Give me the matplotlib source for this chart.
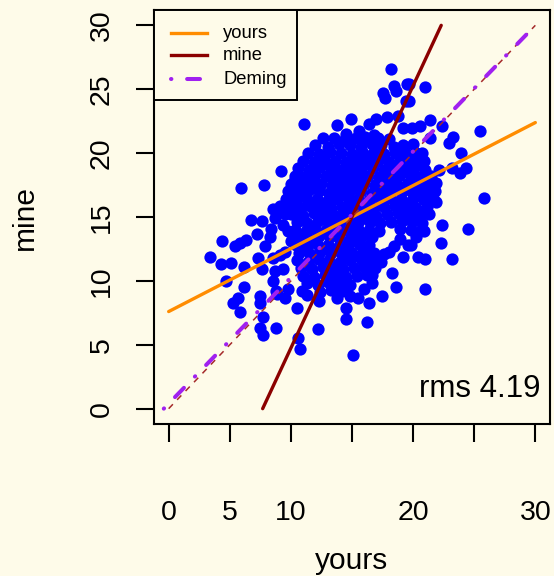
import matplotlib
matplotlib.use("Agg")
import matplotlib.pyplot as plt
from matplotlib.patches import Rectangle
from matplotlib.lines import Line2D

plt.rcParams['font.family'] = ['Liberation Sans', 'DejaVu Sans']

BG = '#FEFBE9'

# (yours, mine) pairs
edge_points = [
    (3.4,11.9),(4.4,13.1),(4.3,11.3),(5.1,11.4),(5.4,12.7),(5.8,13.0),(6.35,13.2),(4.7,10.0),
    (5.25,8.3),(5.7,8.7),(5.8,7.6),(6.15,9.5),(6.2,11.1),(6.76,14.8),(7.6,14.7),(7.2,13.7),
    (7.3,11.8),(7.6,10.9),(7.44,8.8),(7.5,8.3),(7.7,7.2),(7.5,6.3),(7.7,5.8),(8.8,6.3),
    (8.5,10.0),(8.8,9.2),(7.85,12.7),(8.26,13.4),(8.4,14.1),(8.7,14.9),(8.9,15.3),(8.5,11.8),
    (9.1,12.05),(9.5,12.3),(9.35,10.9),(8.7,10.75),(9.76,9.4),(8.9,9.0),(9.5,8.65),(9.35,14.4),
    (9.76,13.9),(10.0,13.1),(10.0,15.2),(9.5,15.2),
    (5.9,17.3),(7.8,17.5),(9.2,18.6),(10.3,18.0),(10.2,17.2),(10.0,16.5),(9.1,15.9),(8.5,15.6),(9.8,15.7),
    (12.2,6.2),(14.5,7.0),(15.1,4.2),(14.5,7.9),(16.2,6.8),(16.35,8.3),(17.45,8.8),(18.6,9.5),
    (18.3,10.6),(19.2,11.9),(18.0,12.3),(17.3,11.8),(16.6,10.5),(16.6,9.8),(15.95,9.4),(15.5,8.65),
    (14.85,8.8),(13.8,8.65),(13.6,9.4),(12.3,8.4),(11.3,8.9),(10.5,7.9),(10.6,5.5),(10.75,4.7),(19.6,12.8),
    (22.4,14.4),(24.5,14.1),(22.3,13.0),(23.2,11.7),(21.0,11.7),(20.4,11.9),(21.0,9.4),(20.9,13.9),
    (20.2,13.4),(19.8,12.8),(20.75,15.2),
    (21.0,25.2),(19.7,25.4),(19.7,24.1),(25.5,21.7),(21.4,22.6),(22.4,22.1),(20.6,22.1),(19.9,22.0),
    (21.4,21.15),(23.3,21.25),(22.9,20.8),(23.9,20.0),(20.75,20.0),(20.2,19.5),(20.9,19.4),(22.1,18.7),
    (23.2,18.85),(24.3,18.85),(23.85,18.45),(21.9,17.7),(21.0,17.9),(25.8,16.5),(21.9,16.2),(20.5,17.0),
    (19.8,18.6),(20.0,20.7),(21.5,17.0),
    (11.1,22.25),(13.8,22.2),(14.9,22.7),(15.6,21.7),(16.4,22.25),(17.0,22.7),(17.9,22.8),(18.8,22.9),
    (14.5,21.5),(16.1,21.25),(16.8,21.4),(19.2,22.0),(18.2,26.6),(18.4,25.25),(17.5,24.7),(18.6,24.9),
    (17.7,24.3),(19.5,25.4),(19.4,24.1),
]

core_points = [
    (12.6,21.2),(13.5,21.2),(14.4,21.1),(15.3,21.2),(16.0,21.0),(17.1,21.2),(18.0,21.1),
    (12.0,20.6),(13.0,20.5),(13.9,20.7),(14.8,20.6),(15.7,20.5),(16.6,20.7),(17.4,20.6),(18.4,20.5),(19.2,20.6),
    (11.4,20.0),(12.3,19.9),(13.2,20.1),(14.1,20.0),(15.0,19.9),(15.9,20.0),(16.8,20.1),(17.6,19.9),(18.5,20.0),(19.3,20.1),(20.2,20.0),
    (11.0,19.4),(11.9,19.3),(12.7,19.5),(13.6,19.4),(14.5,19.3),(15.4,19.4),(16.3,19.5),(17.1,19.4),(18.0,19.3),(18.9,19.4),(19.7,19.5),(20.6,19.3),
    (10.6,18.8),(11.5,18.7),(12.4,18.9),(13.3,18.8),(14.1,18.7),(15.0,18.8),(15.8,18.9),(16.7,18.8),(17.6,18.7),(18.4,18.8),(19.3,18.9),(20.1,18.8),(21.0,18.7),
    (10.3,18.2),(11.1,18.1),(12.0,18.3),(12.9,18.2),(13.7,18.1),(14.6,18.2),(15.5,18.3),(16.3,18.2),(17.2,18.1),(18.1,18.2),(18.9,18.3),(19.8,18.2),(20.6,18.1),(21.5,18.2),
    (10.0,17.6),(10.9,17.5),(11.7,17.7),(12.5,17.6),(13.4,17.5),(14.3,17.6),(15.2,17.7),(16.0,17.6),(16.9,17.5),(17.8,17.6),(18.6,17.7),(19.5,17.6),(20.3,17.5),(21.2,17.6),
    (9.8,17.0),(10.6,16.9),(11.5,17.1),(12.3,17.0),(13.1,16.9),(14.0,17.0),(14.9,17.1),(15.7,17.0),(16.6,16.9),(17.5,17.0),(18.3,17.1),(19.2,17.0),(20.0,16.9),(21.0,17.1),(21.8,17.0),
    (9.6,16.4),(10.4,16.3),(11.2,16.5),(12.1,16.4),(13.0,16.3),(13.8,16.4),(14.7,16.5),(15.5,16.4),(16.4,16.3),(17.3,16.4),(18.1,16.5),(19.0,16.4),(19.9,16.3),(20.8,16.4),(21.6,16.5),
    (9.9,15.8),(10.8,15.7),(11.6,15.9),(12.5,15.8),(13.3,15.7),(14.2,15.8),(15.0,15.9),(15.9,15.8),(16.8,15.7),(17.6,15.8),(18.5,15.9),(19.4,15.8),(20.2,15.7),(21.1,15.8),
    (10.2,15.2),(11.0,15.1),(11.9,15.3),(12.7,15.2),(13.6,15.1),(14.4,15.2),(15.3,15.3),(16.2,15.2),(17.0,15.1),(17.9,15.2),(18.8,15.3),(19.6,15.2),(20.5,15.1),(21.3,15.2),
    (10.5,14.6),(11.3,14.5),(12.2,14.7),(13.0,14.6),(13.9,14.5),(14.8,14.6),(15.6,14.7),(16.5,14.6),(17.3,14.5),(18.2,14.6),(19.1,14.7),(19.9,14.6),(20.7,14.5),
    (10.3,14.0),(11.2,13.9),(12.0,14.1),(12.9,14.0),(13.8,13.9),(14.6,14.0),(15.5,14.1),(16.4,14.0),(17.2,13.9),(18.9,14.1),(19.8,14.0),(20.6,13.9),
    (10.6,13.4),(11.5,13.3),(12.3,13.5),(13.2,13.4),(14.0,13.3),(14.9,13.4),(15.8,13.5),(16.6,13.4),(18.9,13.3),
    (10.4,12.8),(11.3,12.7),(12.1,12.9),(13.0,12.8),(13.9,12.7),(14.7,12.8),(15.6,12.9),(16.4,12.8),(18.4,12.7),
    (10.7,12.2),(11.6,12.1),(12.4,12.3),(13.3,12.2),(14.2,12.1),(15.0,12.2),(15.9,12.3),(16.8,12.2),(17.6,12.1),
    (10.5,11.6),(11.4,11.5),(12.2,11.7),(13.1,11.6),(14.0,11.5),(14.8,11.6),(15.7,11.7),(16.5,11.6),(17.4,11.5),
    (10.8,11.0),(11.7,10.9),(12.6,11.1),(13.4,11.0),(14.3,10.9),(15.2,11.0),(16.0,11.1),(16.9,11.0),
    (11.0,10.4),(11.9,10.3),(12.8,10.5),(13.6,10.4),(14.5,10.3),(15.4,10.4),(16.2,10.5),
    (11.3,9.8),(12.2,9.7),(13.0,9.9),(13.9,9.8),(14.8,9.7),
    (10.9,9.2),(12.4,9.1),(13.3,9.3),(14.2,9.2),
]

all_points = edge_points + core_points
yours = [p[0] for p in all_points]
mine = [p[1] for p in all_points]

# fitted lines
yours_fit = (7.6, 0.493)      # mine = a + b * yours, drawn for yours in [0, 30]
mine_fit = (7.69, 0.487)      # yours = a + b * mine, drawn for mine in [0, 30]
deming_x = [-0.4, 30.0]
deming_y = [0.0, 30.0]
identity = [0.0, 30.0]
rms_text = "rms 4.19"

fig = plt.figure(figsize=(5.54, 5.76), dpi=100, facecolor=BG)
W, H = 554, 576
L, R, T, B = 154, 550, 10, 424
ax = fig.add_axes([L / W, 1 - B / H, (R - L) / W, (B - T) / H])
ax.set_facecolor(BG)
ax.set_xlim(-1.2, 31.2)
ax.set_ylim(-1.2, 31.2)

ax.scatter(yours, mine, s=78, c='#0000FF', linewidths=0, zorder=2)

xs = [0, 30]
ax.plot(xs, [yours_fit[0] + yours_fit[1] * v for v in xs], color='#FF8C00', lw=2.4,
        solid_capstyle='round', zorder=3)
ys = [0, 30]
ax.plot([mine_fit[0] + mine_fit[1] * v for v in ys], ys, color='#8B0000', lw=2.4,
        solid_capstyle='round', zorder=3)
ax.plot(identity, identity, color='#A52A2A', lw=1.1, dashes=(4, 4), zorder=3)
ax.plot(deming_x, deming_y, color='#A020F0', lw=2.9, dashes=(0.1, 3.9, 3.2, 3.9),
        dash_capstyle='round', zorder=4)

ax.text(30.4, 0.94, rms_text, ha='right', va='baseline', fontsize=22.5, zorder=5)

for s in ax.spines.values():
    s.set_linewidth(1.5)

ax.set_xticks([0, 5, 10, 15, 20, 25, 30])
ax.set_xticklabels(['0', '5', '10', '', '20', '', '30'])
ax.set_yticks([0, 5, 10, 15, 20, 25, 30])
ax.set_yticklabels(['0', '5', '10', '15', '20', '25', '30'])
ax.tick_params(axis='both', length=13, width=1.5, labelsize=20.5, direction='out')
ax.tick_params(axis='x', pad=42)
ax.tick_params(axis='y', pad=15, labelrotation=90)
for lab in ax.get_yticklabels():
    lab.set_va('center')

fig.text(352 / W, 1 - 569 / H, 'yours', ha='center', va='baseline', fontsize=21.5)
fig.text(39 / W, 1 - 217 / H, 'mine', ha='right', va='center', rotation=90, fontsize=21.5)

# legend box drawn in axes coordinates
def axx(px):
    return (px - L) / (R - L)

def axy(py):
    return (B - py) / (B - T)

ax.add_patch(Rectangle((axx(154), axy(100)), axx(297) - axx(154), axy(10) - axy(100),
                       transform=ax.transAxes, facecolor=BG, edgecolor='black',
                       lw=1.4, zorder=6, clip_on=False))
legend_items = [('yours', '#FF8C00', None), ('mine', '#8B0000', None), ('Deming', '#A020F0', (0.1, 3.9, 3.2, 3.9))]
rows = [33, 55, 79]
for (lab, col, dash), py in zip(legend_items, rows):
    kw = dict(color=col, lw=2.4 if dash is None else 2.9, transform=ax.transAxes, zorder=7)
    if dash is not None:
        kw.update(dashes=dash, dash_capstyle='round')
    ln = Line2D([axx(171), axx(207)], [axy(py), axy(py)], **kw)
    ax.add_line(ln)
    ax.text(axx(223), axy(py), lab, transform=ax.transAxes, ha='left', va='center',
            fontsize=13.2, zorder=7)

fig.savefig('out.png', dpi=100, facecolor=BG)
